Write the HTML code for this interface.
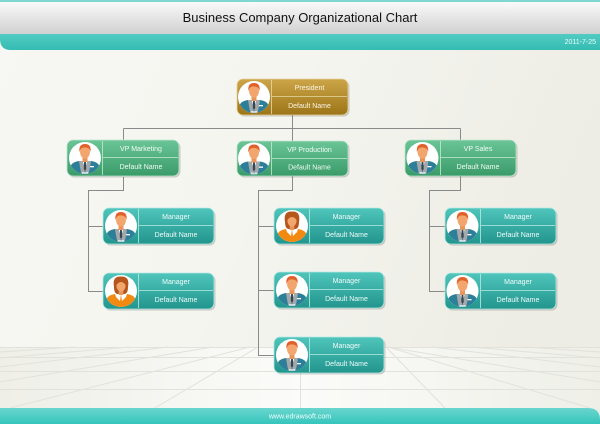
<!DOCTYPE html>
<html><head><meta charset="utf-8"><style>
html,body{margin:0;padding:0;}
body{width:600px;height:424px;overflow:hidden;font-family:"Liberation Sans",Arial,sans-serif;}
svg{display:block;}
text{font-family:"Liberation Sans",Arial,sans-serif;}
</style></head><body>
<svg width="600" height="424" viewBox="0 0 600 424" xmlns="http://www.w3.org/2000/svg">
<defs>
<linearGradient id="bg" x1="0" y1="0" x2="1" y2="0.3">
<stop offset="0" stop-color="#f7f7f3"/><stop offset="0.5" stop-color="#f5f5f0"/><stop offset="1" stop-color="#ededE5"/>
</linearGradient>
<linearGradient id="hdr" x1="0" y1="0" x2="0" y2="1">
<stop offset="0" stop-color="#fafafa"/><stop offset="1" stop-color="#cfcfcf"/>
</linearGradient>
<linearGradient id="teal" x1="0" y1="0" x2="0" y2="1">
<stop offset="0" stop-color="#52cbc3"/><stop offset="1" stop-color="#33bcb3"/>
</linearGradient>
<linearGradient id="foot" x1="0" y1="0" x2="0" y2="1">
<stop offset="0" stop-color="#6ad6ce"/><stop offset="1" stop-color="#35c5bc"/>
</linearGradient>
<linearGradient id="gold" x1="0" y1="0" x2="0" y2="1">
<stop offset="0" stop-color="#cca549"/><stop offset="1" stop-color="#9d7519"/>
</linearGradient>
<linearGradient id="green" x1="0" y1="0" x2="0" y2="1">
<stop offset="0" stop-color="#6bc597"/><stop offset="1" stop-color="#3a9b69"/>
</linearGradient>
<linearGradient id="tl" x1="0" y1="0" x2="0" y2="1">
<stop offset="0" stop-color="#4fc5bc"/><stop offset="1" stop-color="#22958d"/>
</linearGradient>
<linearGradient id="floor" x1="0" y1="0" x2="1" y2="0">
<stop offset="0" stop-color="#efefe8"/><stop offset="0.5" stop-color="#fbfbf9"/><stop offset="1" stop-color="#efefe8"/>
</linearGradient>
<clipPath id="cc"><circle cx="0" cy="0" r="16"/></clipPath>
<g id="male">
<circle cx="0" cy="0" r="16" fill="#ffffff"/>
<g clip-path="url(#cc)">
<path d="M-15,18 L-15,10 Q-14,4 -6,3 L6,3 Q14,4 15,10 L15,18 Z" fill="#2d7e98"/>
<path d="M-6,3 L-2.5,3 L0,13 L-3.5,17 L-5,9 Z" fill="#a3a9ab"/>
<path d="M6,3 L2.5,3 L0,13 L3.5,17 L5,9 Z" fill="#a3a9ab"/>
<path d="M-2.5,3 L2.5,3 L0,11 Z" fill="#ffffff"/>
<path d="M-0.9,4 L0.9,4 L1.2,11 L0,13 L-1.2,11 Z" fill="#3a4550"/>
<rect x="-2.5" y="-2" width="5" height="6" fill="#e8955c"/>
<ellipse cx="0" cy="-6" rx="5" ry="6.5" fill="#f2a56d"/>
<path d="M-5.6,-6 Q-6.5,-14 0,-14 Q6.5,-14 5.6,-6 Q5,-10 1,-10.5 Q-3,-11 -4.5,-8.5 Z" fill="#e0622a"/>
<rect x="5" y="8" width="4" height="1.3" fill="#ffffff"/>
<rect x="-3" y="14" width="6" height="3" fill="#ffffff" opacity="0.7"/>
</g>
</g>
<g id="female">
<circle cx="0" cy="0" r="16" fill="#ffffff"/>
<g clip-path="url(#cc)">
<path d="M-7,-4 Q-9,-15 0,-14.5 Q9,-15 7,-4 Q7,2 4,3 L-4,3 Q-7,2 -7,-4 Z" fill="#b5561d"/>
<path d="M-15,18 L-15,10 Q-14,4 -6,3 L6,3 Q14,4 15,10 L15,18 Z" fill="#f28a12"/>
<path d="M-6,3 L0,3 L-1,10 L-5,6 Z" fill="#ffffff"/>
<path d="M6,3 L0,3 L1,10 L5,6 Z" fill="#ffffff"/>
<rect x="-2.3" y="-2" width="4.6" height="6" fill="#e8955c"/>
<ellipse cx="0" cy="-5.5" rx="4.6" ry="6" fill="#f2a56d"/>
<path d="M-5,-5 Q-5,-12 0,-11.5 Q5,-12 5,-5 Q3,-9 0,-9 Q-3,-9 -5,-5 Z" fill="#b5561d"/>
</g>
</g>
</defs>

<!-- background -->
<rect x="0" y="0" width="600" height="424" fill="url(#bg)"/>
<!-- floor -->
<rect x="0" y="347" width="600" height="62" fill="url(#floor)"/>
<g stroke="#e2e2dc" stroke-width="1" fill="none">
<line x1="0" y1="347.5" x2="600" y2="347.5"/>
<line x1="0" y1="357.5" x2="600" y2="357.5"/>
<line x1="0" y1="371.5" x2="600" y2="371.5"/>
<line x1="0" y1="389.5" x2="600" y2="389.5"/>
<line x1="300.5" y1="347" x2="300.5" y2="408"/>
<line x1="0" y1="352" x2="75" y2="347"/>
<line x1="0" y1="358" x2="130" y2="347"/>
<line x1="0" y1="367" x2="168" y2="347"/>
<line x1="0" y1="382" x2="213" y2="347"/>
<line x1="10" y1="408" x2="250" y2="347"/>
<line x1="155" y1="408" x2="258" y2="347"/>
<line x1="600" y1="352" x2="525" y2="347"/>
<line x1="600" y1="358" x2="470" y2="347"/>
<line x1="600" y1="367" x2="432" y2="347"/>
<line x1="600" y1="382" x2="387" y2="347"/>
<line x1="590" y1="408" x2="388" y2="347"/>
<line x1="445" y1="408" x2="386" y2="347"/>
</g>

<!-- header -->
<rect x="0" y="0" width="600" height="2" fill="#7fd8d0"/>
<rect x="0" y="2" width="600" height="33" fill="url(#hdr)"/>
<path d="M0,34 H600 V50 H11 Q0,50 0,39 Z" fill="url(#teal)"/>
<text x="300" y="22" text-anchor="middle" font-size="13" fill="#111">Business Company Organizational Chart</text>
<text x="596" y="44" text-anchor="end" font-size="7" fill="#eefaf8">2011-7-25</text>

<!-- footer -->
<path d="M0,408 H588 Q600,408 600,420 V424 H0 Z" fill="url(#foot)"/>
<text x="300" y="418.5" text-anchor="middle" font-size="7" fill="#f2fcfb">www.edrawsoft.com</text>

<!-- connectors -->
<g stroke="#8a8a8a" stroke-width="1" fill="none">
<path d="M292.5,115 V128.5"/>
<path d="M123.5,128.5 H460.5"/>
<path d="M123.5,128.5 V140"/>
<path d="M292.5,128.5 V141"/>
<path d="M460.5,128.5 V140"/>
<path d="M123.5,177 V190.5 H88.5 V291.5 H103"/>
<path d="M88.5,226.5 H103"/>
<path d="M292.5,176 V190.5 H258.5 V355.5 H274"/>
<path d="M258.5,226.5 H274"/>
<path d="M258.5,290.5 H274"/>
<path d="M460.5,176 V190.5 H429.5 V291.5 H445"/>
<path d="M429.5,226.5 H445"/>
</g>

<!-- President -->
<g>
<rect x="238.5" y="80.5" width="111" height="36" rx="6" fill="#000" opacity="0.18"/>
<rect x="237" y="79" width="111" height="36" rx="6" fill="url(#gold)" stroke="#e6d39e" stroke-width="0.8"/>
<line x1="271.5" y1="80" x2="271.5" y2="114" stroke="#e9d9a8" stroke-width="0.8"/>
<line x1="272" y1="96.5" x2="347" y2="96.5" stroke="#e9d9a8" stroke-width="0.8"/>
<use href="#male" x="254" y="97"/>
<text x="309.5" y="90" text-anchor="middle" font-size="7" fill="#fbf5e4">President</text>
<text x="309.5" y="108" text-anchor="middle" font-size="7" fill="#fbf5e4">Default Name</text>
</g>

<!-- VP Marketing -->
<g>
<rect x="68.5" y="141.5" width="112" height="36" rx="6" fill="#000" opacity="0.18"/>
<rect x="67" y="140" width="112" height="36" rx="6" fill="url(#green)" stroke="#bfe6cf" stroke-width="0.8"/>
<line x1="102.5" y1="141" x2="102.5" y2="175" stroke="#c6eccf" stroke-width="0.8"/>
<line x1="103" y1="157.5" x2="178" y2="157.5" stroke="#c6eccf" stroke-width="0.8"/>
<use href="#male" x="85" y="158"/>
<text x="141" y="151" text-anchor="middle" font-size="7" fill="#f1fbf5">VP Marketing</text>
<text x="141" y="169" text-anchor="middle" font-size="7" fill="#f1fbf5">Default Name</text>
</g>

<!-- VP Production -->
<g>
<rect x="238.5" y="142.5" width="111" height="35" rx="6" fill="#000" opacity="0.18"/>
<rect x="237" y="141" width="111" height="35" rx="6" fill="url(#green)" stroke="#bfe6cf" stroke-width="0.8"/>
<line x1="271.5" y1="142" x2="271.5" y2="175" stroke="#c6eccf" stroke-width="0.8"/>
<line x1="272" y1="158.5" x2="347" y2="158.5" stroke="#c6eccf" stroke-width="0.8"/>
<use href="#male" x="254" y="158.5"/>
<text x="309.5" y="152" text-anchor="middle" font-size="7" fill="#f1fbf5">VP Production</text>
<text x="309.5" y="169.5" text-anchor="middle" font-size="7" fill="#f1fbf5">Default Name</text>
</g>

<!-- VP Sales -->
<g>
<rect x="406.5" y="141.5" width="111" height="36" rx="6" fill="#000" opacity="0.18"/>
<rect x="405" y="140" width="111" height="36" rx="6" fill="url(#green)" stroke="#bfe6cf" stroke-width="0.8"/>
<line x1="440.5" y1="141" x2="440.5" y2="175" stroke="#c6eccf" stroke-width="0.8"/>
<line x1="441" y1="157.5" x2="515" y2="157.5" stroke="#c6eccf" stroke-width="0.8"/>
<use href="#male" x="422.5" y="158"/>
<text x="478" y="151" text-anchor="middle" font-size="7" fill="#f1fbf5">VP Sales</text>
<text x="478" y="169" text-anchor="middle" font-size="7" fill="#f1fbf5">Default Name</text>
</g>

<!-- M1 marketing -->
<g>
<rect x="104.5" y="209.5" width="111" height="36" rx="6" fill="#000" opacity="0.18"/>
<rect x="103" y="208" width="111" height="36" rx="6" fill="url(#tl)" stroke="#b6e8e3" stroke-width="0.8"/>
<line x1="138.5" y1="209" x2="138.5" y2="243" stroke="#b9ebe6" stroke-width="0.8"/>
<line x1="139" y1="225.5" x2="213" y2="225.5" stroke="#b9ebe6" stroke-width="0.8"/>
<use href="#male" x="121" y="226"/>
<text x="176" y="219" text-anchor="middle" font-size="7" fill="#effaf9">Manager</text>
<text x="176" y="237" text-anchor="middle" font-size="7" fill="#effaf9">Default Name</text>
</g>
<!-- M2 marketing female -->
<g>
<rect x="104.5" y="274.5" width="111" height="36" rx="6" fill="#000" opacity="0.18"/>
<rect x="103" y="273" width="111" height="36" rx="6" fill="url(#tl)" stroke="#b6e8e3" stroke-width="0.8"/>
<line x1="138.5" y1="274" x2="138.5" y2="308" stroke="#b9ebe6" stroke-width="0.8"/>
<line x1="139" y1="290.5" x2="213" y2="290.5" stroke="#b9ebe6" stroke-width="0.8"/>
<use href="#female" x="121" y="291"/>
<text x="176" y="284" text-anchor="middle" font-size="7" fill="#effaf9">Manager</text>
<text x="176" y="302" text-anchor="middle" font-size="7" fill="#effaf9">Default Name</text>
</g>
<!-- P1 female -->
<g>
<rect x="275.5" y="209.5" width="110" height="36" rx="6" fill="#000" opacity="0.18"/>
<rect x="274" y="208" width="110" height="36" rx="6" fill="url(#tl)" stroke="#b6e8e3" stroke-width="0.8"/>
<line x1="309.5" y1="209" x2="309.5" y2="243" stroke="#b9ebe6" stroke-width="0.8"/>
<line x1="310" y1="225.5" x2="383" y2="225.5" stroke="#b9ebe6" stroke-width="0.8"/>
<use href="#female" x="292" y="226"/>
<text x="346.5" y="219" text-anchor="middle" font-size="7" fill="#effaf9">Manager</text>
<text x="346.5" y="237" text-anchor="middle" font-size="7" fill="#effaf9">Default Name</text>
</g>
<!-- P2 -->
<g>
<rect x="275.5" y="273.5" width="110" height="36" rx="6" fill="#000" opacity="0.18"/>
<rect x="274" y="272" width="110" height="36" rx="6" fill="url(#tl)" stroke="#b6e8e3" stroke-width="0.8"/>
<line x1="309.5" y1="273" x2="309.5" y2="307" stroke="#b9ebe6" stroke-width="0.8"/>
<line x1="310" y1="289.5" x2="383" y2="289.5" stroke="#b9ebe6" stroke-width="0.8"/>
<use href="#male" x="292" y="290"/>
<text x="346.5" y="283" text-anchor="middle" font-size="7" fill="#effaf9">Manager</text>
<text x="346.5" y="301" text-anchor="middle" font-size="7" fill="#effaf9">Default Name</text>
</g>
<!-- P3 -->
<g>
<rect x="275.5" y="338.5" width="110" height="36" rx="6" fill="#000" opacity="0.18"/>
<rect x="274" y="337" width="110" height="36" rx="6" fill="url(#tl)" stroke="#b6e8e3" stroke-width="0.8"/>
<line x1="309.5" y1="338" x2="309.5" y2="372" stroke="#b9ebe6" stroke-width="0.8"/>
<line x1="310" y1="354.5" x2="383" y2="354.5" stroke="#b9ebe6" stroke-width="0.8"/>
<use href="#male" x="292" y="355"/>
<text x="346.5" y="348" text-anchor="middle" font-size="7" fill="#effaf9">Manager</text>
<text x="346.5" y="366" text-anchor="middle" font-size="7" fill="#effaf9">Default Name</text>
</g>
<!-- S1 -->
<g>
<rect x="446.5" y="209.5" width="111" height="36" rx="6" fill="#000" opacity="0.18"/>
<rect x="445" y="208" width="111" height="36" rx="6" fill="url(#tl)" stroke="#b6e8e3" stroke-width="0.8"/>
<line x1="480.5" y1="209" x2="480.5" y2="243" stroke="#b9ebe6" stroke-width="0.8"/>
<line x1="481" y1="225.5" x2="555" y2="225.5" stroke="#b9ebe6" stroke-width="0.8"/>
<use href="#male" x="462.5" y="226"/>
<text x="518" y="219" text-anchor="middle" font-size="7" fill="#effaf9">Manager</text>
<text x="518" y="237" text-anchor="middle" font-size="7" fill="#effaf9">Default Name</text>
</g>
<!-- S2 -->
<g>
<rect x="446.5" y="274.5" width="111" height="36" rx="6" fill="#000" opacity="0.18"/>
<rect x="445" y="273" width="111" height="36" rx="6" fill="url(#tl)" stroke="#b6e8e3" stroke-width="0.8"/>
<line x1="480.5" y1="274" x2="480.5" y2="308" stroke="#b9ebe6" stroke-width="0.8"/>
<line x1="481" y1="290.5" x2="555" y2="290.5" stroke="#b9ebe6" stroke-width="0.8"/>
<use href="#male" x="462.5" y="291"/>
<text x="518" y="284" text-anchor="middle" font-size="7" fill="#effaf9">Manager</text>
<text x="518" y="302" text-anchor="middle" font-size="7" fill="#effaf9">Default Name</text>
</g>
</svg>
</body></html>
